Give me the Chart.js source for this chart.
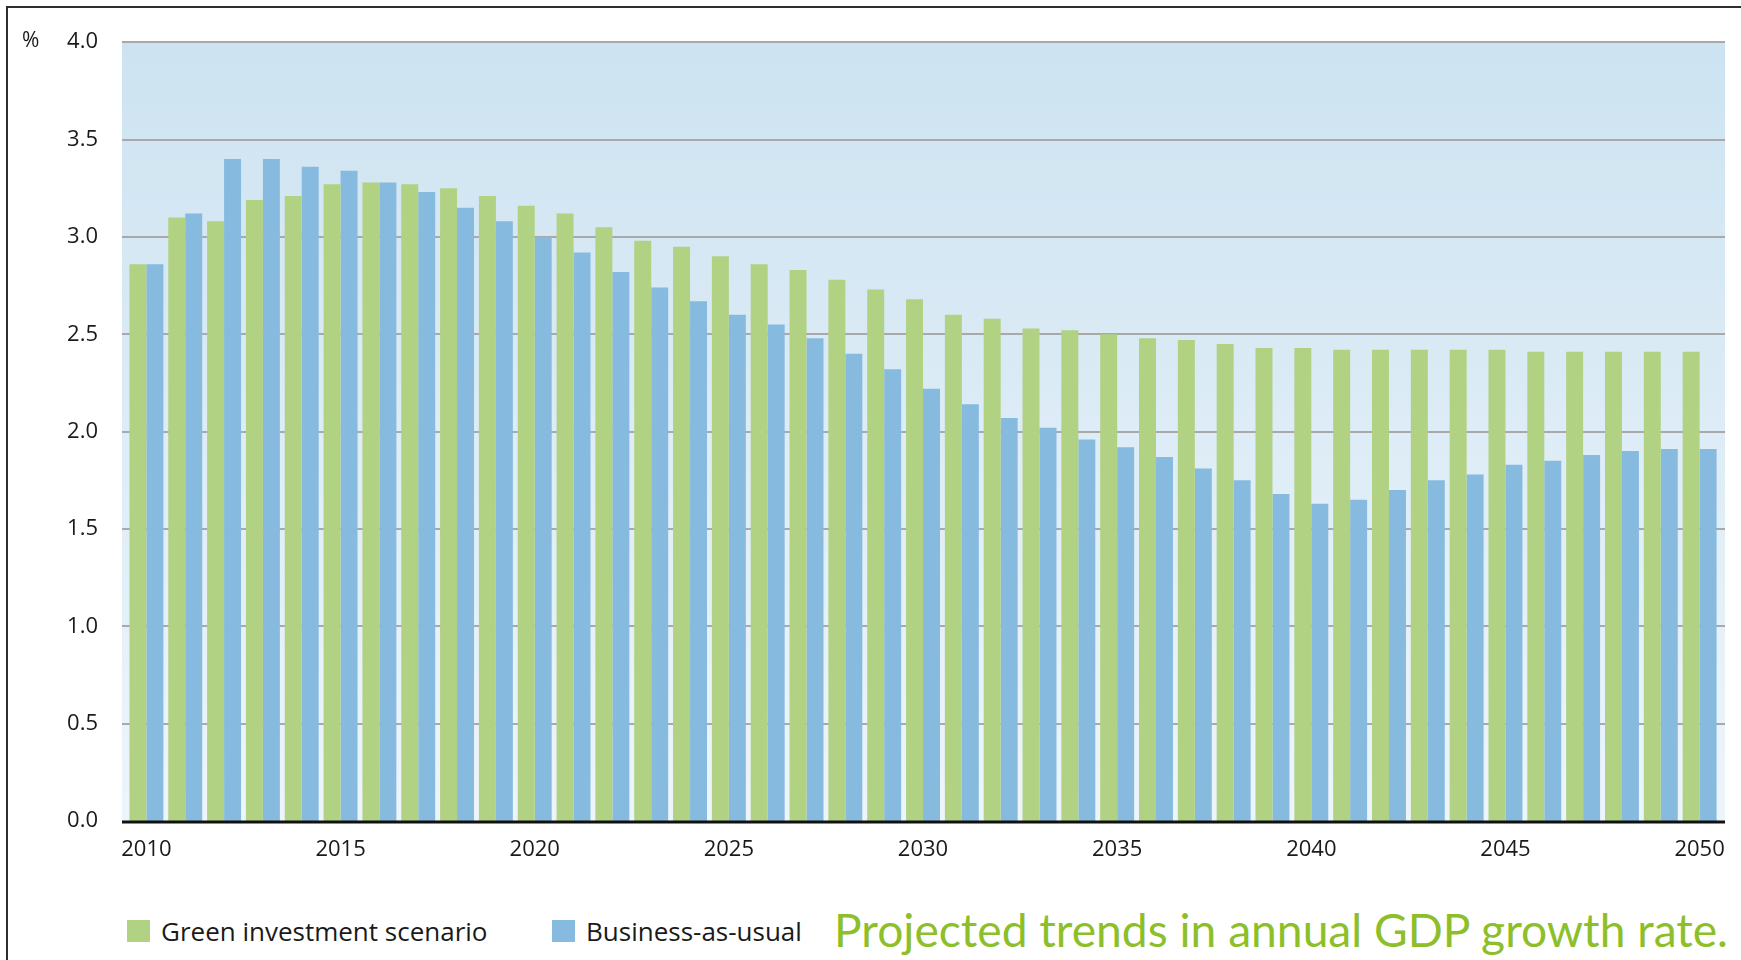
<!DOCTYPE html>
<html>
<head>
<meta charset="utf-8">
<script src="https://cdn.jsdelivr.net/npm/chart.js@4.4.1/dist/chart.umd.min.js"></script>
<style>
  html, body { margin: 0; padding: 0; background: #fff; }
  body { width: 1741px; height: 960px; position: relative; overflow: hidden; font-family: "Open Sans", sans-serif; color: #1a1a1a; }
  #frame { position: absolute; left: 6px; top: 6px; right: -10px; bottom: -10px; border-left: 2px solid #2e2e2e; border-top: 2px solid #2e2e2e; }
  #wrap { position: absolute; left: 0; top: 0; width: 1741px; height: 880px; }
  #pct { position: absolute; left: 22px; top: 25px; font-size: 21px; }
  .item { position: absolute; top: 913px; display: flex; align-items: center; font-size: 26px; white-space: nowrap; }
  .item span.sw { display: inline-block; width: 23px; height: 22px; margin-right: 11px; }
  #title { position: absolute; left: 834px; top: 907px; font-family: "Lato", sans-serif; font-size: 46px; line-height: 1; color: #8dbf2a; white-space: nowrap; transform-origin: 0 0; }
</style>
</head>
<body>
<div id="frame"></div>
<div id="wrap"><canvas id="grafico"></canvas></div>
<div id="pct">%</div>
<div id="legend"></div>
<div id="title">Projected trends in annual GDP growth rate.</div>
<script>
// años del eje x
const years = ['2010','2011','2012','2013','2014','2015','2016','2017','2018','2019',
  '2020','2021','2022','2023','2024','2025','2026','2027','2028','2029',
  '2030','2031','2032','2033','2034','2035','2036','2037','2038','2039',
  '2040','2041','2042','2043','2044','2045','2046','2047','2048','2049','2050'];

// crecimiento anual del PIB (%)
const greenScenario = [2.86, 3.10, 3.08, 3.19, 3.21, 3.27, 3.28, 3.27, 3.25, 3.21,
  3.16, 3.12, 3.05, 2.98, 2.95, 2.90, 2.86, 2.83, 2.78, 2.73,
  2.68, 2.60, 2.58, 2.53, 2.52, 2.50, 2.48, 2.47, 2.45, 2.43,
  2.43, 2.42, 2.42, 2.42, 2.42, 2.42, 2.41, 2.41, 2.41, 2.41, 2.41];
const businessAsUsual = [2.86, 3.12, 3.40, 3.40, 3.36, 3.34, 3.28, 3.23, 3.15, 3.08,
  3.00, 2.92, 2.82, 2.74, 2.67, 2.60, 2.55, 2.48, 2.40, 2.32,
  2.22, 2.14, 2.07, 2.02, 1.96, 1.92, 1.87, 1.81, 1.75, 1.68,
  1.63, 1.65, 1.70, 1.75, 1.78, 1.83, 1.85, 1.88, 1.90, 1.91, 1.91];

const yTicks = [0, 0.5, 1.0, 1.5, 2.0, 2.5, 3.0, 3.5, 4.0];
const labelEvery = 5;

// fondo degradado, lineas de cuadricula y eje
const fondo = {
  id: 'fondo',
  beforeDatasetsDraw(chart) {
    const { ctx, chartArea: a, scales: { y } } = chart;
    const left = a.left - 5, right = a.right + 6;
    const g = ctx.createLinearGradient(0, a.top, 0, a.bottom);
    g.addColorStop(0, '#cde3f1');
    g.addColorStop(1, '#edf5fb');
    ctx.save();
    ctx.fillStyle = g;
    ctx.fillRect(left, a.top, right - left, a.bottom - a.top);
    ctx.strokeStyle = '#a9a9a9';
    ctx.lineWidth = 2;
    y.ticks.forEach(t => {
      if (t.value === 0) return;
      const py = Math.round(y.getPixelForValue(t.value));
      ctx.beginPath();
      ctx.moveTo(left, py);
      ctx.lineTo(right, py);
      ctx.stroke();
    });
    ctx.restore();
  },
  afterDatasetsDraw(chart) {
    const { ctx, chartArea: a, scales: { y } } = chart;
    const py = Math.round(y.getPixelForValue(0)) + 1;
    ctx.save();
    ctx.strokeStyle = '#111';
    ctx.lineWidth = 3;
    ctx.beginPath();
    ctx.moveTo(a.left - 5, py);
    ctx.lineTo(a.right + 6, py);
    ctx.stroke();
    ctx.restore();
  }
};

const ctx = document.getElementById('grafico').getContext('2d');
const chart = new Chart(ctx, {
  type: 'bar',
  data: {
    labels: years,
    datasets: [
      { label: 'Green investment scenario', data: greenScenario, backgroundColor: '#b1d183' },
      { label: 'Business-as-usual', data: businessAsUsual, backgroundColor: '#86badf' }
    ]
  },
  options: {
    responsive: true,
    maintainAspectRatio: false,
    animation: false,
    barPercentage: 1.0,
    categoryPercentage: 0.874,
    layout: { padding: { left: 0, right: 19, top: 36, bottom: 0 } },
    plugins: {
      legend: { display: false },
      tooltip: { enabled: false }
    },
    scales: {
      x: {
        grid: { display: false, drawTicks: false },
        border: { display: false },
        afterFit: s => { s.height = 59; },
        ticks: {
          autoSkip: false,
          maxRotation: 0,
          padding: 16,
          color: '#1a1a1a',
          font: { family: 'Open Sans', size: 22 },
          callback: function (v) {
            const lab = this.getLabelForValue(v);
            return Number(lab) % labelEvery === 0 ? lab : '';
          }
        }
      },
      y: {
        min: yTicks[0],
        max: yTicks[yTicks.length - 1],
        afterFit: s => { s.width = 127; },
        afterBuildTicks: s => { s.ticks = yTicks.map(v => ({ value: v })); },
        grid: { display: false, drawTicks: false },
        border: { display: false },
        ticks: {
          padding: 29,
          color: '#1a1a1a',
          font: { family: 'Open Sans', size: 22 },
          callback: v => Number(v).toFixed(1)
        }
      }
    }
  },
  plugins: [fondo]
});

// leyenda en HTML a partir de los datasets
const legendX = [127, 552];
const legend = document.getElementById('legend');
chart.data.datasets.forEach((ds, i) => {
  const it = document.createElement('div');
  it.className = 'item';
  it.style.left = legendX[i] + 'px';
  it.innerHTML = `<span class="sw" style="background:${ds.backgroundColor}"></span>${ds.label}`;
  legend.appendChild(it);
});

// ajustar el ancho del titulo al original
const title = document.getElementById('title');
const w = title.getBoundingClientRect().width;
title.style.transform = `scaleX(${894 / w})`;
</script>
</body>
</html>
